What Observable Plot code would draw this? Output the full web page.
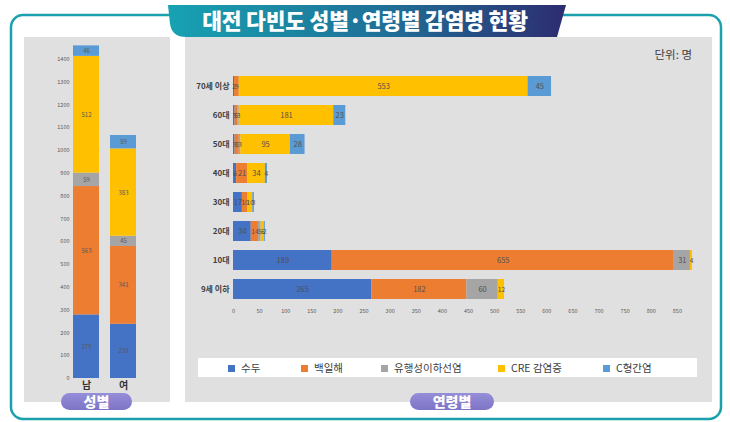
<!DOCTYPE html>
<html><head><meta charset="utf-8">
<script src="https://cdn.jsdelivr.net/npm/d3@7"></script>
<script src="https://cdn.jsdelivr.net/npm/@observablehq/plot@0.6"></script>
<style>
body{margin:0;background:#fff;font-family:"Noto Sans CJK KR","Noto Sans",sans-serif;}
#wrap{position:relative;width:730px;height:422px;overflow:hidden;}
.abs{position:absolute;}
.title{left:0;width:730px;top:5px;text-align:center;color:#fff;font-size:21.5px;font-weight:900;line-height:30px;letter-spacing:-0.2px;}
.pill{color:#fff;font-weight:900;font-size:14px;line-height:17px;text-align:center;}
.unit{left:620px;top:46px;width:72px;text-align:right;font-size:11.5px;color:#404040;}
.legend{left:198px;top:358px;width:499px;height:19px;background:#fff;}
.li{position:absolute;top:0;height:19px;line-height:19px;font-size:10.5px;color:#404040;white-space:nowrap;}
.sw{display:inline-block;width:7px;height:7px;margin-right:6px;vertical-align:0px;}
</style></head><body>
<div id="wrap">
<svg class="abs" style="left:0;top:0" width="730" height="422">
 <defs><linearGradient id="g" x1="0" x2="1"><stop offset="0" stop-color="#17a2b2"/><stop offset="0.55" stop-color="#1f6f96"/><stop offset="1" stop-color="#2d2c70"/></linearGradient>
 <linearGradient id="p" x1="0" x2="0" y1="0" y2="1"><stop offset="0" stop-color="#958ed8"/><stop offset="1" stop-color="#7c74c6"/></linearGradient></defs>
 <rect x="11" y="15" width="710" height="404" rx="12" fill="none" stroke="#1ba1ad" stroke-width="2.5"/>
 <rect x="24" y="37" width="146" height="365" fill="#e0e0e0"/>
 <rect x="185" y="37" width="527" height="365" fill="#e0e0e0"/>
 <path d="M168,5 L566,5 L557,37 L186,37 Q172,37 170,24 Z" fill="url(#g)"/>
 <rect x="61" y="393" width="71" height="17" rx="8.5" fill="url(#p)"/>
 <rect x="410" y="393" width="84" height="17" rx="8.5" fill="url(#p)"/>
</svg>
<div class="abs title">대전 다빈도 성별·연령별 감염병 현황</div>
<div class="abs unit">단위: 명</div>
<div class="abs pill" style="left:61px;top:393px;width:71px;">성별</div>
<div class="abs pill" style="left:410px;top:393px;width:84px;">연령별</div>
<div id="left" class="abs" style="left:24px;top:37px;"></div>
<div id="right" class="abs" style="left:185px;top:37px;"></div>
<div id="legend" class="abs legend"></div>
</div>
<script>
const diseases = ["수두","백일해","유행성이하선염","CRE 감염증","C형간염"];
const colors = ["#4472c4","#ed7d31","#a5a5a5","#ffc000","#5b9bd5"];
const genders = ["남","여"];
const maleValues = [279,563,59,512,46];
const femaleValues = [238,341,45,383,59];
const genderTicks = d3.range(0,1401,100);

const ages = ["70세 이상","60대","50대","40대","30대","20대","10대","9세 이하"];
const chickenpox = [2,3,3,6,17,34,189,265];
const pertussis = [9,5,8,21,10,14,655,182];
const mumps = [0,3,3,0,0,5,31,60];
const cre = [553,181,95,34,10,6,4,12];
const hepC = [45,23,28,4,3,2,0,0];
const ageTicks = d3.range(0,851,50);
const legendLeft = [30,103,183,300,405];

const font = '"Noto Sans CJK KR","Noto Sans",sans-serif';

const gRows = [];
genders.forEach((g,i)=>{
  const vals = i===0 ? maleValues : femaleValues;
  diseases.forEach((d,j)=>gRows.push({gender:g, disease:d, value:vals[j]}));
});
const ageSeries = [chickenpox, pertussis, mumps, cre, hepC];
const aRows = [];
ages.forEach((a,i)=>{
  diseases.forEach((d,j)=>aRows.push({age:a, disease:d, value:ageSeries[j][i]}));
});

const left = Plot.plot({
  width:146, height:365, marginTop:3.6, marginBottom:24, marginLeft:47, marginRight:32,
  style:{background:"transparent", fontFamily:font, color:"#595959", overflow:"visible"},
  x:{domain:genders, paddingInner:0.3, paddingOuter:0.054},
  y:{domain:[0,1480]},
  color:{domain:diseases, range:colors},
  marks:[
    Plot.barY(gRows, {x:"gender", y:"value", fill:"disease", order:null}),
    Plot.text(gRows.filter(d=>d.value>0), Plot.stackY({x:"gender", y:"value", z:"disease", text:d=>String(d.value), fill:"#595959", fontSize:6})),
    Plot.axisY({ticks:genderTicks, tickSize:0, tickPadding:2, tickFormat:d3.format("d"), label:null, fontSize:5.5, fill:"#595959"}),
    Plot.axisX({tickSize:0, tickPadding:3, label:null, fontSize:10, fontWeight:"bold", fill:"#333"})
  ]
});
document.getElementById("left").appendChild(left);

const right = Plot.plot({
  width:527, height:290, marginTop:30, marginBottom:19, marginLeft:48, marginRight:9,
  style:{background:"transparent", fontFamily:font, color:"#595959", overflow:"visible"},
  x:{domain:[0,900]},
  y:{domain:ages, paddingInner:0.32, paddingOuter:0.237},
  color:{domain:diseases, range:colors},
  marks:[
    Plot.barX(aRows.filter(d=>d.value>0), {y:"age", x:"value", fill:"disease", order:null}),
    Plot.text(aRows.filter(d=>d.value>0), Plot.stackX({y:"age", x:"value", z:"disease", text:d=>String(d.value), fill:"#505050", fontSize:d=>d.value<15?6.5:7.5})),
    Plot.axisX({ticks:ageTicks, tickSize:0, tickPadding:1, label:null, fontSize:5.5, fill:"#595959"}),
    Plot.axisY({tickSize:0, tickPadding:4, label:null, fontSize:8, fontWeight:"bold", fill:"#404040"})
  ]
});
document.getElementById("right").appendChild(right);

const lg = document.getElementById("legend");
diseases.forEach((d,i)=>{
  const el = document.createElement("div");
  el.className = "li";
  el.style.left = legendLeft[i] + "px";
  el.innerHTML = `<span class="sw" style="background:${colors[i]}"></span>${d}`;
  lg.appendChild(el);
});
</script>
</body></html>
